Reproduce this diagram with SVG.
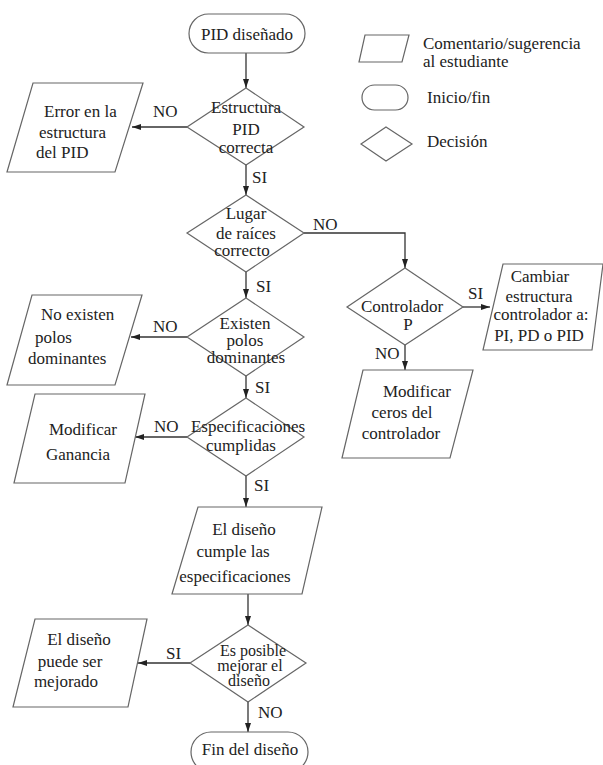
<svg xmlns="http://www.w3.org/2000/svg" width="603" height="765" viewBox="0 0 603 765" font-family="'Liberation Serif', 'Times New Roman', serif">
<defs>
<style>
.s{fill:#fff;stroke:#666;stroke-width:1.2}
.c{fill:none;stroke:#333;stroke-width:1.3}
text{font-family:'Liberation Serif','Times New Roman',serif;font-size:17px;fill:#222}
.m{text-anchor:middle}
.t{font-size:16px}
</style>
<marker id="ah" viewBox="0 0 9 6" refX="9" refY="3" markerWidth="9" markerHeight="6" markerUnits="userSpaceOnUse" orient="auto">
<path d="M0,0 L9,3 L0,6 z" fill="#222"/>
</marker>
</defs>
<rect width="603" height="765" fill="#fff"/>

<g id="legend">
<polygon class="s" points="365,35 409,35 402,62 359,62"/>
<text x="423" y="49">Comentario/sugerencia</text>
<text x="423" y="67">al estudiante</text>
<rect class="s" x="362" y="85" width="46" height="25" rx="12.5"/>
<text x="427" y="103">Inicio/fin</text>
<polygon class="s" points="386,127 412,144 386,161 361,144"/>
<text x="427" y="147">Decisión</text>
</g>

<g id="connectors">
<line class="c" x1="246" y1="53" x2="246" y2="88" marker-end="url(#ah)"/>
<line class="c" x1="187" y1="127" x2="132" y2="127" marker-end="url(#ah)"/>
<line class="c" x1="246" y1="165" x2="246" y2="195" marker-end="url(#ah)"/>
<polyline class="c" points="304,233 405,233 405,268" marker-end="url(#ah)"/>
<line class="c" x1="246" y1="272" x2="246" y2="298" marker-end="url(#ah)"/>
<line class="c" x1="187" y1="337" x2="131" y2="337" marker-end="url(#ah)"/>
<line class="c" x1="246" y1="376" x2="246" y2="398" marker-end="url(#ah)"/>
<line class="c" x1="463" y1="307" x2="490" y2="307" marker-end="url(#ah)"/>
<line class="c" x1="405" y1="345" x2="405" y2="370" marker-end="url(#ah)"/>
<line class="c" x1="187" y1="437" x2="135" y2="437" marker-end="url(#ah)"/>
<line class="c" x1="246" y1="476" x2="246" y2="507" marker-end="url(#ah)"/>
<line class="c" x1="248" y1="594" x2="248" y2="625" marker-end="url(#ah)"/>
<line class="c" x1="190" y1="663" x2="138" y2="663" marker-end="url(#ah)"/>
<line class="c" x1="248" y1="702" x2="248" y2="732" marker-end="url(#ah)"/>
<text x="153" y="117">NO</text>
<text x="252" y="183">SI</text>
<text x="313" y="230">NO</text>
<text x="256" y="292">SI</text>
<text x="153" y="332">NO</text>
<text x="255" y="393">SI</text>
<text x="468" y="299">SI</text>
<text x="375" y="359">NO</text>
<text x="154" y="432">NO</text>
<text x="254" y="491">SI</text>
<text x="166" y="659">SI</text>
<text x="258" y="718">NO</text>
</g>

<g id="n-pid-disenado">
<rect class="s" x="189" y="14" width="116" height="39" rx="19.5"/>
<text class="m" x="247" y="40">PID diseñado</text>
</g>

<g id="n-estructura">
<polygon class="s" points="246,88 304,127 246,165 187,127"/>
<text class="m" x="246" y="113">Estructura</text>
<text class="m" x="246" y="135">PID</text>
<text class="m" x="246" y="153">correcta</text>
</g>

<g id="n-error">
<polygon class="s" points="33,83 143,83 115,172 7,172"/>
<text x="44" y="117">Error en la</text>
<text x="39" y="138">estructura</text>
<text x="36" y="158">del PID</text>
</g>

<g id="n-lugar">
<polygon class="s" points="246,195 304,233 246,272 187,233"/>
<text class="m" x="246" y="219">Lugar</text>
<text class="m" x="246" y="239">de raíces</text>
<text class="m" x="242" y="256">correcto</text>
</g>

<g id="n-existen">
<polygon class="s" points="246,298 304,337 246,376 187,337"/>
<text class="m" x="245" y="329">Existen</text>
<text class="m" x="245" y="346">polos</text>
<text class="m" x="246" y="363">dominantes</text>
</g>

<g id="n-no-existen">
<polygon class="s" points="32,295 142,295 115,385 7,385"/>
<text x="41" y="320">No existen</text>
<text x="35" y="343">polos</text>
<text x="28" y="364">dominantes</text>
</g>

<g id="n-controlador">
<polygon class="s" points="405,268 463,307 405,345 347,307"/>
<text class="m" x="402" y="312">Controlador</text>
<text class="m" x="408" y="330">P</text>
</g>

<g id="n-cambiar">
<polygon class="s" points="503,264 603,264 592,350 483,350"/>
<text class="m" x="540" y="282">Cambiar</text>
<text class="m" x="539" y="302">estructura</text>
<text class="m" x="541" y="320">controlador a:</text>
<text class="m" x="539" y="341">PI, PD o PID</text>
</g>

<g id="n-modificar-ceros">
<polygon class="s" points="363,370 473,370 450,458 342,458"/>
<text class="m" x="417" y="397">Modificar</text>
<text class="m" x="402" y="418">ceros del</text>
<text class="m" x="401" y="439">controlador</text>
</g>

<g id="n-especificaciones">
<polygon class="s" points="246,398 304,437 246,476 187,437"/>
<text class="m" x="248" y="432">Especificaciones</text>
<text class="m" x="241" y="451">cumplidas</text>
</g>

<g id="n-modificar-ganancia">
<polygon class="s" points="35,394 145,394 125,483 14,483"/>
<text class="m" x="83" y="435">Modificar</text>
<text class="m" x="78" y="460">Ganancia</text>
</g>

<g id="n-cumple">
<polygon class="s" points="198,507 322,507 302,594 172,594"/>
<text class="m" x="244" y="535">El diseño</text>
<text class="m" x="233" y="557">cumple las</text>
<text class="m" x="235" y="582">especificaciones</text>
</g>

<g id="n-mejorar">
<polygon class="s" points="248,625 306,663 248,702 190,663"/>
<text class="m t" x="253" y="656">Es posible</text>
<text class="m t" x="250" y="671">mejorar el</text>
<text class="m t" x="249" y="686">diseño</text>
</g>

<g id="n-mejorado">
<polygon class="s" points="35,619 147,619 128,707 13,707"/>
<text class="m" x="79" y="645">El diseño</text>
<text class="m" x="70" y="667">puede ser</text>
<text class="m" x="66" y="687">mejorado</text>
</g>

<g id="n-fin">
<rect class="s" x="191" y="732" width="117" height="40" rx="20"/>
<text class="m" x="250" y="755">Fin del diseño</text>
</g>
</svg>
